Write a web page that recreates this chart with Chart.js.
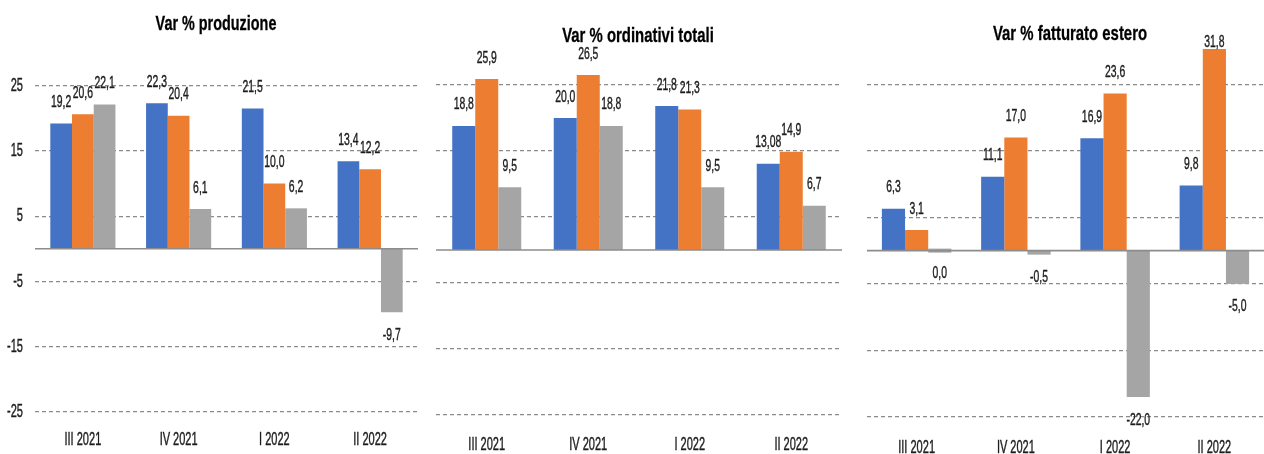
<!DOCTYPE html>
<html>
<head>
<meta charset="utf-8">
<script src="https://cdn.jsdelivr.net/npm/chart.js@4.4.1/dist/chart.umd.min.js"></script>
<style>
html,body{margin:0;padding:0;background:#fff;}
body{width:1264px;height:454px;position:relative;overflow:hidden;}
.box{position:absolute;top:0;height:454px;}
</style>
</head>
<body>
<div class="box" style="left:0;width:430px"><canvas id="c1"></canvas></div>
<div class="box" style="left:436px;width:406px"><canvas id="c2"></canvas></div>
<div class="box" style="left:867px;width:397px"><canvas id="c3"></canvas></div>
<script>
const categories = ["III 2021", "IV 2021", "I 2022", "II 2022"];
const yTicks = [-25, -15, -5, 5, 15, 25];

const produzioneA = [19.2, 22.3, 21.5, 13.4];
const produzioneB = [20.6, 20.4, 10.0, 12.2];
const produzioneC = [22.1, 6.1, 6.2, -9.7];

const ordinativiA = [18.8, 20.0, 21.8, 13.08];
const ordinativiB = [25.9, 26.5, 21.3, 14.9];
const ordinativiC = [9.5, 18.8, 9.5, 6.7];
const ordinativiLabelsA = ["18,8", "20,0", "21,8", "13,08"];

const esteroA = [6.3, 11.1, 16.9, 9.8];
const esteroB = [3.1, 17.0, 23.6, 31.8];
const esteroC = [0.0, -0.5, -22.0, -5.0];

const COLORS = ["#4472C4", "#ED7D31", "#A5A5A5"];
const FONT = "'Liberation Sans', Arial, sans-serif";
const TXT = "#1c1c1c";

function fmt(v){ return v.toFixed(1).replace('.', ','); }

function sText(ctx, txt, x, y, font, sx, align, baseline, color, stroke) {
  ctx.save();
  ctx.translate(x, y);
  ctx.scale(sx, 1);
  ctx.font = font;
  ctx.fillStyle = color || TXT;
  ctx.textAlign = align;
  ctx.textBaseline = baseline;
  ctx.fillText(txt, 0, 0);
  if (stroke) {
    ctx.strokeStyle = color || TXT;
    ctx.lineWidth = stroke;
    ctx.strokeText(txt, 0, 0);
  }
  ctx.restore();
}

const textPlugin = {
  id: 'textPlugin',
  afterDraw(chart) {
    const o = chart.options.plugins.textPlugin;
    const ctx = chart.ctx;
    const area = chart.chartArea;
    sText(ctx, o.title, o.titleX, o.titleY, "bold " + o.titleSize + "px " + FONT, o.titleSx, "center", "alphabetic", "#000", 0.3);
    const xs = chart.scales.x;
    chart.data.labels.forEach((lab, i) => {
      sText(ctx, lab, xs.getPixelForTick(i), area.bottom + o.xOff, "19px " + FONT, 0.58, "center", "middle", TXT, 0.45);
    });
    if (o.showY) {
      const ys = chart.scales.y;
      yTicks.forEach(v => {
        sText(ctx, String(v), area.left - 12, ys.getPixelForValue(v), "19px " + FONT, 0.58, "right", "middle", TXT, 0.45);
      });
    }
    chart.data.datasets.forEach((ds, di) => {
      const meta = chart.getDatasetMeta(di);
      meta.data.forEach((bar, i) => {
        const v = ds.data[i];
        const txt = (ds.customLabels && ds.customLabels[i]) || fmt(v);
        let y;
        if (v > 0) {
          y = bar.y < area.top ? area.top - 7 : bar.y - 21;
        } else {
          y = chart.scales.y.getPixelForValue(v) + 23;
        }
        sText(ctx, txt, bar.x, y, "16.5px " + FONT, 0.63, "center", "middle", TXT, 0.4);
      });
    });
  }
};

const zeroLine = {
  id: 'zeroLine',
  afterDatasetsDraw(chart) {
    const y = chart.scales.y.getPixelForValue(0);
    const ctx = chart.ctx;
    ctx.save();
    ctx.strokeStyle = "#8c8c8c";
    ctx.lineWidth = 1.6;
    ctx.beginPath();
    ctx.moveTo(chart.chartArea.left, y);
    ctx.lineTo(chart.chartArea.right, y);
    ctx.stroke();
    ctx.restore();
  }
};

function makeChart(id, a, b, c, cfg) {
  const ds = [a, b, c].map((d, k) => ({
    data: d,
    backgroundColor: COLORS[k],
    borderWidth: 0,
    categoryPercentage: cfg.catPct,
    barPercentage: 1.0,
    minBarLength: k === 2 ? 4 : 0
  }));
  if (cfg.customA) ds[0].customLabels = cfg.customA;
  return new Chart(document.getElementById(id), {
    type: 'bar',
    data: { labels: categories, datasets: ds },
    options: {
      responsive: true,
      maintainAspectRatio: false,
      animation: false,
      layout: { padding: { left: cfg.padLeft, right: cfg.padRight, top: cfg.top, bottom: 0 } },
      plugins: {
        legend: { display: false },
        tooltip: { enabled: false },
        title: { display: false },
        textPlugin: cfg.text
      },
      scales: {
        x: {
          grid: { display: false, drawTicks: false },
          border: { display: false },
          ticks: { display: false },
          afterFit(s) { s.height = cfg.xHeight; }
        },
        y: {
          min: -25,
          max: cfg.max,
          afterBuildTicks(s) { s.ticks = yTicks.map(v => ({ value: v })); },
          grid: { color: "#8a8a8a", lineWidth: 1.2, drawTicks: false },
          border: { display: false, dash: [4, 3] },
          ticks: { display: false },
          afterFit(s) { s.width = 0; }
        }
      }
    },
    plugins: [zeroLine, textPlugin]
  });
}

makeChart('c1', produzioneA, produzioneB, produzioneC,
  { catPct: 0.68, padLeft: 35, padRight: 12, top: 53, max: 30, xHeight: 42,
    text: { title: 'Var % produzione', titleX: 216, titleY: 30, titleSize: 20, titleSx: 0.72, xOff: 28, showY: true } });
makeChart('c2', ordinativiA, ordinativiB, ordinativiC,
  { catPct: 0.68, padLeft: 0, padRight: 0, top: 52, max: 30, xHeight: 39, customA: ordinativiLabelsA,
    text: { title: 'Var % ordinativi totali', titleX: 202, titleY: 42, titleSize: 21, titleSx: 0.71, xOff: 30, showY: false } });
makeChart('c3', esteroA, esteroB, esteroC,
  { catPct: 0.70, padLeft: 0, padRight: 0, top: 49, max: 30.3, xHeight: 37,
    text: { title: 'Var % fatturato estero', titleX: 203, titleY: 40, titleSize: 21, titleSx: 0.71, xOff: 31, showY: false } });
</script>
</body>
</html>
